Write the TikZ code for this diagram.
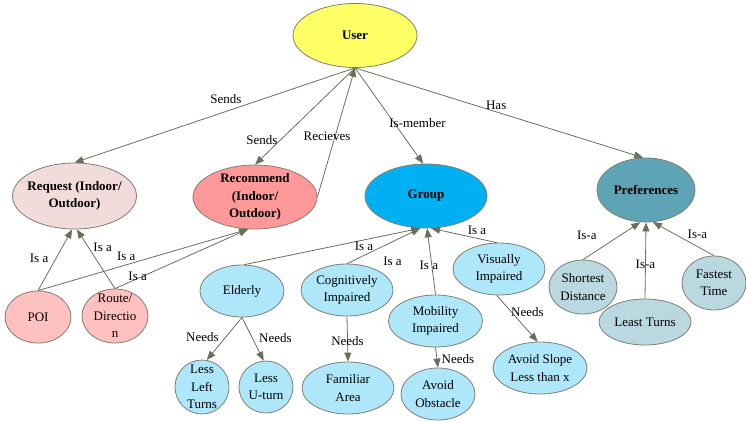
\documentclass[tikz,border=0pt]{standalone}
\usepackage{fontspec}
\setmainfont{Liberation Serif}
\usetikzlibrary{arrows.meta}
\usetikzlibrary{shapes.geometric}

\definecolor{userfill}{HTML}{FFFF66}
\definecolor{reqfill}{HTML}{F2DCDB}
\definecolor{recfill}{HTML}{FF9999}
\definecolor{grpfill}{HTML}{00B0F0}
\definecolor{preffill}{HTML}{5FA3B7}
\definecolor{pinkfill}{HTML}{FFC0C0}
\definecolor{bluefill}{HTML}{AEE7FA}
\definecolor{greyfill}{HTML}{B9D8E0}
\definecolor{nodeline}{HTML}{7F7F72}
\definecolor{linkcol}{HTML}{6B6E5A}

\begin{document}
\begin{tikzpicture} [
        x=1pt, y=-1pt,
        concept/.style={draw=nodeline, ellipse, line width=0.8pt, inner xsep=-6pt, inner ysep=-6pt,
            align=center, font=\fontsize{13}{17.5}\selectfont},
        main/.style={concept, font=\fontsize{13}{17.5}\selectfont\bfseries},
        link/.style={draw=linkcol, line width=0.8pt, -{Triangle[length=9pt,width=7pt]}},
        lbl/.style={font=\fontsize{13}{15}\selectfont, inner sep=0pt} ]
    \useasboundingbox (0,0) rectangle (746,421);
    % top level
    \node[main, fill=userfill, minimum width=124pt, minimum height=64pt] (user) at (355,35.5) {User};
    \node[main, fill=reqfill, minimum width=124pt, minimum height=66pt] (req) at (74.5,196) {Request (Indoor/\\Outdoor)};
    \node[main, fill=recfill, minimum width=124pt, minimum height=64pt] (rec) at (255,197) {Recommend\\(Indoor/\\Outdoor)};
    \node[main, fill=grpfill, minimum width=122pt, minimum height=64pt] (grp) at (426,196) {Group};
    \node[main, fill=preffill, minimum width=98pt, minimum height=64pt] (pref) at (646,190) {Preferences};
    % requests
    \node[concept, fill=pinkfill, minimum width=66pt, minimum height=52pt] (poi) at (38,317) {POI};
    \node[concept, fill=pinkfill, minimum width=66pt, minimum height=54pt] (route) at (115,316) {Route/\\Directio\\n};
    % groups
    \node[concept, fill=bluefill, minimum width=84pt, minimum height=52pt] (eld) at (242,291) {Elderly};
    \node[concept, fill=bluefill, minimum width=92pt, minimum height=52pt] (cog) at (347,290) {Cognitively\\Impaired};
    \node[concept, fill=bluefill, minimum width=94pt, minimum height=52pt] (mob) at (435.5,321) {Mobility\\Impaired};
    \node[concept, fill=bluefill, minimum width=92pt, minimum height=52pt] (vis) at (499,269) {Visually\\Impaired};
    \node[concept, fill=bluefill, minimum width=54pt, minimum height=54pt] (left) at (202,387) {Less\\Left\\Turns};
    \node[concept, fill=bluefill, minimum width=54pt, minimum height=52pt] (uturn) at (266,387) {Less\\U-turn};
    \node[concept, fill=bluefill, minimum width=92pt, minimum height=52pt] (fam) at (348,388) {Familiar\\Area};
    \node[concept, fill=bluefill, minimum width=74pt, minimum height=52pt] (obst) at (438,394) {Avoid\\Obstacle};
    \node[concept, fill=bluefill, minimum width=94pt, minimum height=52pt] (slope) at (540,368) {Avoid Slope\\Less than x};
    % preferences
    \node[concept, fill=greyfill, minimum width=68pt, minimum height=54pt] (short) at (583,287) {Shortest\\Distance};
    \node[concept, fill=greyfill, minimum width=92pt, minimum height=46pt] (least) at (645,322) {Least Turns};
    \node[concept, fill=greyfill, minimum width=64pt, minimum height=54pt] (fast) at (714,283) {Fastest\\Time};
    % user links
    \draw (user.south) edge[link] node[lbl, pos=.46, yshift=12pt] {Sends} (req.north);
    \draw (user.south) edge[link] node[lbl, pos=.75, xshift=-18pt] {Sends} (rec.north);
    \draw (rec.east) edge[link] node[lbl, pos=.47, xshift=-8pt] {Recieves} (user.south);
    \draw (user.south) edge[link] node[lbl, pos=.58, xshift=23pt] {Is-member} (grp.95);
    \draw (user.south) edge[link] node[lbl, pos=.49, yshift=7pt] {Has} (pref.95);
    % request links
    \draw (poi.north) edge[link] node[lbl, pos=.53, xshift=-17pt] {Is a} (req.266);
    \draw (route.north) edge[link] node[lbl, pos=.69, xshift=14pt] {Is a} (req.274);
    \draw (poi.north) edge[link] node[lbl, pos=.42, yshift=9pt] {Is a} (rec.258);
    \draw (route.north) edge[link] node[lbl, pos=.17, yshift=2pt] {Is a} (rec.258);
    % group links
    \draw (eld.85) edge[link] node[lbl, pos=.68, yshift=-6pt] {Is a} (grp.260);
    \draw (cog.north) edge[link] node[lbl, pos=.62, yshift=-20pt] {Is a} (grp.260);
    \draw (mob.north) edge[link] node[lbl, pos=.44, xshift=-3pt] {Is a} (grp.272);
    \draw (vis.95) edge[link] node[lbl, pos=.3, yshift=8pt] {Is a} (grp.279);
    \draw (eld.south) edge[link] node[lbl, pos=.47, xshift=-23pt] {Needs} (left.80);
    \draw (eld.south) edge[link] node[lbl, pos=.48, xshift=23pt] {Needs} (uturn.95);
    \draw (cog.south) edge[link] node[lbl, pos=.54] {Needs} (fam.north);
    \draw (mob.south) edge[link] node[lbl, pos=.57, xshift=21pt] {Needs} (obst.north);
    \draw (vis.265) edge[link] node[lbl, pos=.36, xshift=16pt] {Needs} (slope.95);
    % preference links
    \draw (short.north) edge[link] node[lbl, pos=.66, xshift=-34pt] {Is-a} (pref.260);
    \draw (least.north) edge[link] node[lbl, pos=.45] {Is-a} (pref.south);
    \draw (fast.north) edge[link] node[lbl, pos=.63, xshift=22pt] {Is-a} (pref.282);
\end{tikzpicture}
\end{document}
